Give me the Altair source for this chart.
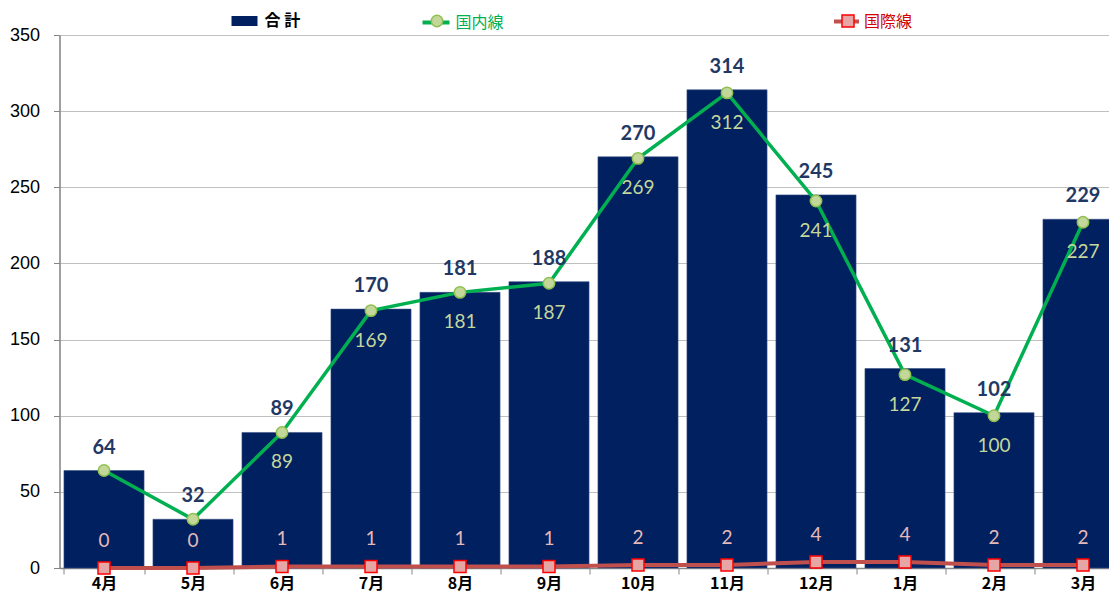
import altair as alt
import pandas as pd

months = ["4月", "5月", "6月", "7月", "8月", "9月", "10月", "11月", "12月", "1月", "2月", "3月"]
total = [64, 32, 89, 170, 181, 188, 270, 314, 245, 131, 102, 229]
domestic = [64, 32, 89, 169, 181, 187, 269, 312, 241, 127, 100, 227]
international = [0, 0, 1, 1, 1, 1, 2, 2, 4, 4, 2, 2]
domestic_labels = ["", "", "89", "169", "181", "187", "269", "312", "241", "127", "100", "227"]
y_ticks = [0, 50, 100, 150, 200, 250, 300, 350]

NAVY = "#002060"
GREEN = "#00b050"
LGREEN = "#c4d79b"
RED = "#c0504d"
PINK = "#e6a6a5"

df = pd.DataFrame({
    "month": months,
    "total": total,
    "dom": domestic,
    "intl": international,
    "domlabel": domestic_labels,
    "s_total": "合 計",
    "s_dom_line": "国内線",
    "s_dom_pt": "国内線",
    "s_intl_line": "国際線",
    "s_intl_pt": "国際線",
})

JP = "Noto Sans CJK JP"
LAB = "Lato"

x = alt.X("month:N", sort=months, title=None,
          scale=alt.Scale(paddingInner=0.1, paddingOuter=0.05),
          axis=alt.Axis(labelAngle=0, labelFont=JP, labelFontWeight="bold", labelFontSize=16,
                        labelColor="black", tickBand="extent", tickColor="#868686", tickSize=6,
                        labelPadding=1, domainColor="#868686", domainWidth=1.5, grid=False))
yscale = alt.Scale(domain=[0, 350], nice=False)
yaxis = alt.Axis(values=y_ticks, title=None, labelFont="Liberation Sans", labelFontSize=18,
                 labelColor="black", labelPadding=14, tickSize=6, tickColor="#868686",
                 domainColor="#868686", domainWidth=1.5, grid=True, gridColor="#c0c0c0")

base = alt.Chart(df).encode(x=x)

bars = base.mark_bar(stroke="#3a5386", strokeWidth=0.6).encode(
    y=alt.Y("total:Q", scale=yscale, axis=yaxis),
    color=alt.Color("s_total:N", scale=alt.Scale(range=[NAVY]),
                    legend=alt.Legend(title=None, orient="none", legendX=172, legendY=-27,
                                      symbolType="M-1,-0.385H1V0.385H-1Z", symbolSize=676,
                                      symbolStrokeWidth=0, labelFont=JP, labelFontSize=16,
                                      labelFontWeight="bold", labelColor="black", labelOffset=7,
                                      padding=0)),
)

dom_line = base.mark_line(strokeWidth=3.5).encode(
    y=alt.Y("dom:Q", scale=yscale),
    color=alt.Color("s_dom_line:N", scale=alt.Scale(range=[GREEN]),
                    legend=alt.Legend(title=None, orient="none", legendX=361, legendY=-28,
                                      symbolType="stroke", symbolSize=729, symbolStrokeWidth=4,
                                      labelFont=JP, labelFontSize=16, labelColor=GREEN,
                                      labelOffset=4, padding=0)),
)
dom_pts = base.mark_point(filled=True, size=130, stroke="#8fbf4f", strokeWidth=1.5, opacity=1).encode(
    y=alt.Y("dom:Q", scale=yscale),
    fill=alt.Fill("s_dom_pt:N", scale=alt.Scale(range=[LGREEN]),
                  legend=alt.Legend(title=None, orient="none", legendX=369.5, legendY=-22,
                                    symbolType="circle", symbolSize=130, symbolStrokeWidth=1.5,
                                    symbolStrokeColor="#8fbf4f", symbolOpacity=1,
                                    labelExpr="''", labelFontSize=16, padding=0)),
)

intl_line = base.mark_line(strokeWidth=4).encode(
    y=alt.Y("intl:Q", scale=yscale),
    color=alt.Color("s_intl_line:N", scale=alt.Scale(range=[RED]),
                    legend=alt.Legend(title=None, orient="none", legendX=772.5, legendY=-28,
                                      symbolType="stroke", symbolSize=625, symbolStrokeWidth=4,
                                      labelFont=JP, labelFontSize=16, labelColor="#d00000",
                                      labelOffset=3, padding=0)),
)
intl_pts = base.mark_point(filled=True, shape="square", size=144, stroke="#ff0000", strokeWidth=1.5, opacity=1).encode(
    y=alt.Y("intl:Q", scale=yscale),
    fill=alt.Fill("s_intl_pt:N", scale=alt.Scale(range=[PINK]),
                  legend=alt.Legend(title=None, orient="none", legendX=780.5, legendY=-22,
                                    symbolType="square", symbolSize=144, symbolStrokeWidth=1.5,
                                    symbolStrokeColor="#ff0000", symbolOpacity=1,
                                    labelExpr="''", labelFontSize=16, padding=0)),
)

total_txt = base.mark_text(dy=-13, baseline="bottom", font=LAB, fontWeight="bold", fontSize=20,
                           color="#1f3864").encode(y=alt.Y("total:Q", scale=yscale), text="total:Q")
dom_txt = base.mark_text(dy=30, baseline="middle", font=LAB, fontSize=19, color=LGREEN).encode(
    y=alt.Y("dom:Q", scale=yscale), text="domlabel:N")
intl_txt = base.mark_text(dy=-27, baseline="middle", font=LAB, fontSize=19, color="#e6b9b8").encode(
    y=alt.Y("intl:Q", scale=yscale), text="intl:Q")

chart = alt.layer(bars, intl_line, intl_pts, dom_line, dom_pts, total_txt, dom_txt, intl_txt).resolve_scale(
    color="independent", fill="independent"
).resolve_legend(color="independent", fill="independent").properties(
    width=1068, height=533,
    autosize=alt.AutoSizeParams(type="none"),
    padding={"left": 51.5, "top": 27, "right": -18.5, "bottom": 29},
).configure_view(fill="#f2f2f2", stroke=None).configure(background="white")

chart.save("out.html", embed_options={"renderer": "svg", "actions": False})
